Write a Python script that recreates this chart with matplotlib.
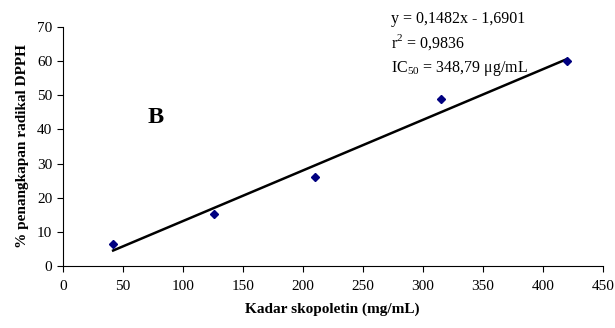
import numpy as np
import matplotlib
matplotlib.use("Agg")
import matplotlib.pyplot as plt

plt.rcParams['font.family'] = ['Liberation Serif', 'DejaVu Serif']
plt.rcParams['mathtext.fontset'] = 'custom'
plt.rcParams['mathtext.rm'] = 'Liberation Serif'

# data
kadar = [42, 126, 210, 315, 420]
penangkapan = [6.5, 15.2, 26.2, 49.0, 60.0]
slope = 0.1482
intercept = -1.6901

fig = plt.figure(figsize=(6.15, 3.28), dpi=100)
ax = fig.add_axes([0.102, 0.189, 0.878, 0.729])

xl = np.array([min(kadar), max(kadar)])
ax.plot(xl, slope * xl + intercept, color='black', lw=1.8, zorder=2)
ax.plot(kadar, penangkapan, 'D', color='#000080', markersize=4.5, zorder=3)

ax.set_xlim(0, 450)
ax.set_ylim(0, 70)
ax.set_xticks(np.arange(0, 451, 50))
ax.set_yticks(np.arange(0, 71, 10))
ax.tick_params(direction='out', length=4, width=0.8, labelsize=11, colors='black')
ax.tick_params(axis='x', pad=6)
for s in ['top', 'right']:
    ax.spines[s].set_visible(False)

ax.set_xlabel("Kadar skopoletin (mg/mL)", fontsize=11, fontweight='bold', labelpad=7)
ax.set_ylabel("% penangkapan radikal DPPH", fontsize=11, fontweight='bold', labelpad=6)

ax.text(0.157, 0.6, "B", transform=ax.transAxes, fontsize=17.5, fontweight='bold')

fig.text(0.636, 0.93, "y = 0,1482x - 1,6901", fontsize=11.5)
fig.text(0.636, 0.855, "r$^{2}$ = 0,9836", fontsize=11.5)
fig.text(0.636, 0.78, "IC$_{50}$ = 348,79 μg/mL", fontsize=11.5)

fig.savefig("out.png", dpi=100)
